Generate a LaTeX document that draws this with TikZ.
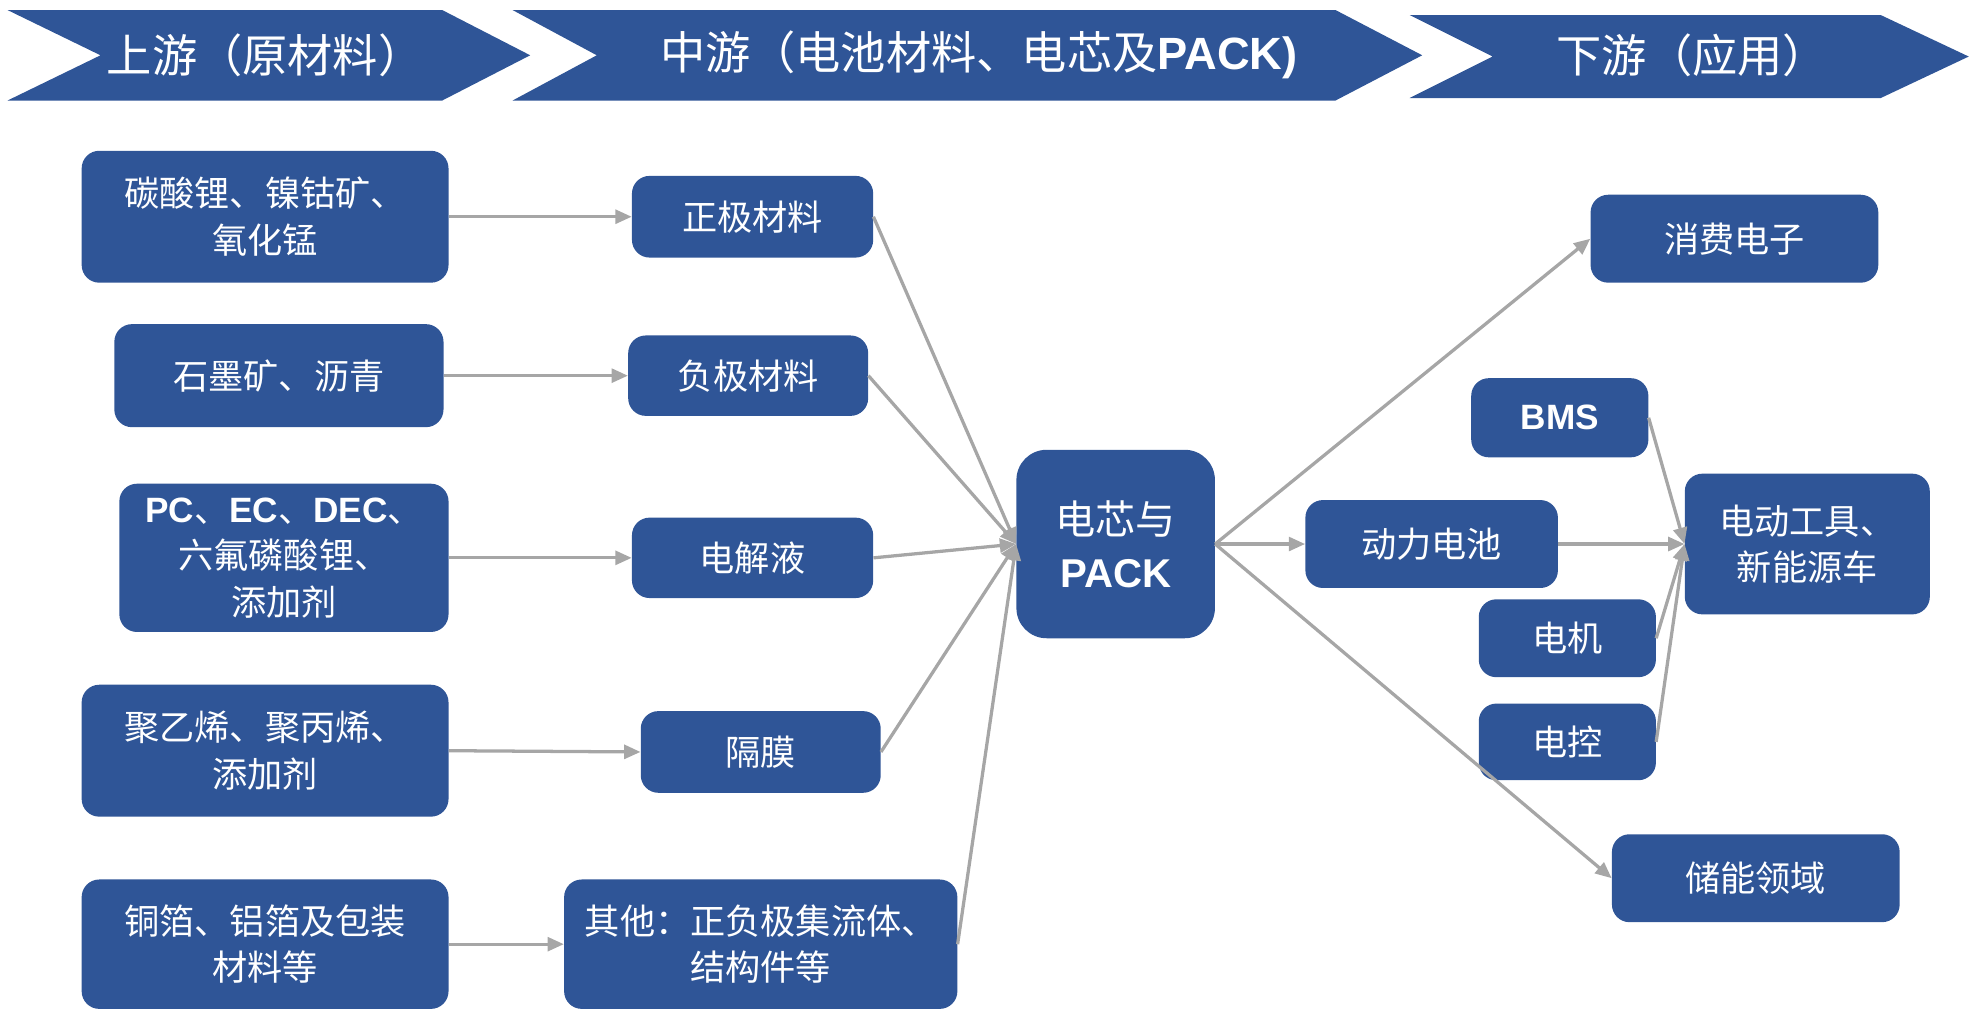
\documentclass[tikz,border=0pt]{standalone}
\usepackage{fontspec}
\setmainfont{Liberation Sans}
\newfontfamily\cjk{Noto Sans CJK SC}
\newfontfamily\lat{Liberation Sans}
\usetikzlibrary{arrows.meta}
\definecolor{boxblue}{RGB}{47,85,151}
\definecolor{linegray}{RGB}{166,166,166}
\tikzset{
  chev/.style={fill=boxblue, draw=none},
  headtxt/.style={text=white, font=\cjk\fontsize{36}{40}\selectfont, inner sep=0pt},
  bluebox/.style={fill=boxblue, draw=none, rounded corners=14pt, text=white, align=center,
     inner sep=0pt, font=\cjk\fontsize{28}{37}\selectfont},
  conn/.style={draw=linegray, line width=2.6pt, -{Triangle[length=13pt,width=11pt]}},
}
\begin{document}
\begin{tikzpicture}[x=1pt,y=-1pt]
\useasboundingbox (0,0) rectangle (1568,804);
% header chevrons
\path[chev] (6,8) -- (352,8) -- (422,44) -- (352,80) -- (6,80) -- (80,44) -- cycle;
\path[chev] (408,8) -- (1063,8) -- (1132,44) -- (1063,80) -- (408,80) -- (475,44) -- cycle;
\path[chev] (1122,12) -- (1497,12) -- (1567,45) -- (1497,78) -- (1122,78) -- (1188,45) -- cycle;
\node[headtxt] (h1) at (211,44) {上游（原材料）};
\node[headtxt] (h2) at (779,44) {中游（电池材料、电芯及{\lat\bfseries PACK)}};
\node[headtxt] (h3) at (1347,44) {下游（应用）};
% left column
\node[bluebox, minimum width=292pt, minimum height=105pt] (b1) at (211,172.5) {碳酸锂、镍钴矿、\\氧化锰};
\node[bluebox, minimum width=262pt, minimum height=82pt] (b2) at (222,299) {石墨矿、沥青};
\node[bluebox, minimum width=262pt, minimum height=118pt] (b3) at (226,444) {{\lat\bfseries PC}、{\lat\bfseries EC}、{\lat\bfseries DEC}、\\六氟磷酸锂、\\添加剂};
\node[bluebox, minimum width=292pt, minimum height=105pt] (b4) at (211,597.5) {聚乙烯、聚丙烯、\\添加剂};
\node[bluebox, minimum width=292pt, minimum height=103pt] (b5) at (211,751.5) {铜箔、铝箔及包装\\材料等};
% middle column
\node[bluebox, minimum width=192pt, minimum height=65pt] (m1) at (599,172.5) {正极材料};
\node[bluebox, minimum width=191pt, minimum height=64pt] (m2) at (595.5,299) {负极材料};
\node[bluebox, minimum width=192pt, minimum height=64pt] (m3) at (599,444) {电解液};
\node[bluebox, minimum width=191pt, minimum height=65pt] (m4) at (605.5,598.5) {隔膜};
\node[bluebox, minimum width=313pt, minimum height=103pt] (m5) at (605.5,751.5) {其他：正负极集流体、\\结构件等};
% center
\node[bluebox, rounded corners=24pt, minimum width=158pt, minimum height=150pt, font=\cjk\fontsize{32}{42}\selectfont] (c) at (888,433) {电芯与\\{\lat\bfseries PACK}};
% right side
\node[bluebox, minimum width=229pt, minimum height=70pt] (r1) at (1380.5,190) {消费电子};
\node[bluebox, minimum width=141pt, minimum height=63pt] (bms) at (1241.5,332.5) {{\lat\bfseries BMS}};
\node[bluebox, minimum width=201pt, minimum height=70pt] (dl) at (1139.5,433) {动力电池};
\node[bluebox, minimum width=195pt, minimum height=112pt] (ev) at (1438.5,433) {电动工具、\\新能源车};
\node[bluebox, minimum width=141pt, minimum height=62pt] (dj) at (1247.5,508) {电机};
\node[bluebox, minimum width=141pt, minimum height=61pt] (dk) at (1247.5,590.5) {电控};
\node[bluebox, minimum width=229pt, minimum height=70pt] (cn) at (1397.5,699) {储能领域};
% connectors
\draw[conn] (b1.east) -- (m1.west);
\draw[conn] (b2.east) -- (m2.west);
\draw[conn] (b3.east) -- (m3.west);
\draw[conn] (b4.east) -- (m4.west);
\draw[conn] (b5.east) -- (m5.west);
\draw[conn] (m1.east) -- (c.west);
\draw[conn] (m2.east) -- (c.west);
\draw[conn] (m3.east) -- (c.west);
\draw[conn] (m4.east) -- (c.west);
\draw[conn] (m5.east) -- (c.west);
\draw[conn] (c.east) -- (dl.west);
\draw[conn] (c.east) -- (r1.west);
\draw[conn] (c.east) -- (cn.west);
\draw[conn] (dl.east) -- (ev.west);
\draw[conn] (bms.east) -- (ev.west);
\draw[conn] (dj.east) -- (ev.west);
\draw[conn] (dk.east) -- (ev.west);
\end{tikzpicture}
\end{document}
